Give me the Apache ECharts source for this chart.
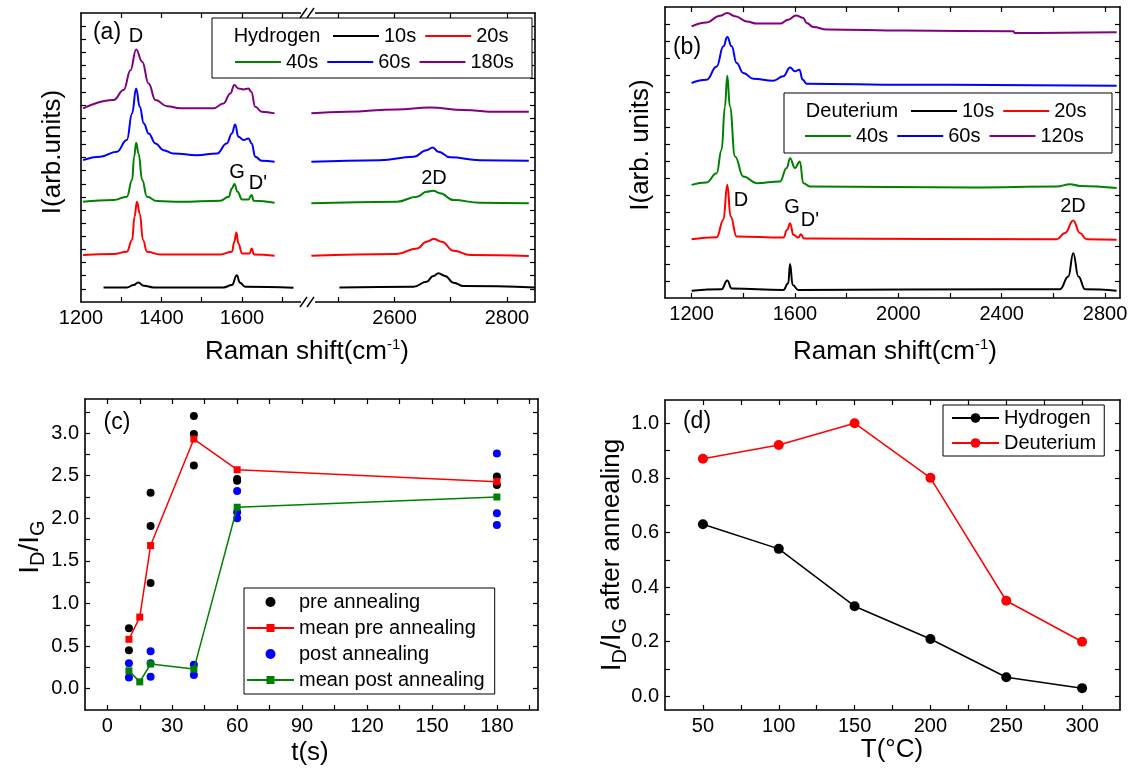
<!DOCTYPE html>
<html>
<head>
<meta charset="utf-8">
<script src="https://cdn.jsdelivr.net/npm/echarts@6/dist/echarts.min.js"></script>
<style>
html, body { margin: 0; padding: 0; background: #fff; }
#main { width: 1130px; height: 771px; }
</style>
</head>
<body>
<div id="main"></div>
<script>
// ---- (a) hydrogen spectra, [Raman shift, offset intensity]; Lo = 1200-1760, Hi = 2450-2850
var h10Lo = [[1256,1.11],[1314,1.11],[1331,1.29],[1342,1.49],[1356,1.24],[1380,1.11],[1554,1.11],[1575,1.29],[1587,2.03],[1595,1.47],[1608,1.16],[1728,1.09]];
var h10Hi = [[2502,1.11],[2634,1.16],[2657,1.54],[2669,1.98],[2678,2.18],[2690,1.98],[2705,1.47],[2723,1.21],[2850,1.11]];
var h20Lo = [[1205,3.57],[1281,3.65],[1314,3.83],[1327,4.72],[1333,6.49],[1339,7.63],[1346,6.74],[1354,4.72],[1364,3.83],[1397,3.62],[1546,3.62],[1575,3.83],[1581,4.59],[1586,5.30],[1591,4.46],[1600,3.70],[1619,3.70],[1624,4.08],[1630,3.62],[1681,3.52]];
var h20Hi = [[2452,3.52],[2604,3.65],[2640,4.08],[2657,4.59],[2670,4.79],[2684,4.59],[2705,3.90],[2735,3.57],[2839,3.50]];
var h40Lo = [[1205,7.63],[1281,7.76],[1314,8.01],[1327,9.28],[1332,11.06],[1337,12.12],[1343,11.31],[1352,9.28],[1364,8.01],[1389,7.68],[1447,7.63],[1546,7.71],[1567,8.01],[1575,8.65],[1581,8.98],[1589,8.39],[1600,7.81],[1616,7.81],[1624,8.14],[1629,7.71],[1681,7.56]];
var h40Hi = [[2452,7.51],[2604,7.63],[2640,8.01],[2657,8.39],[2669,8.47],[2681,8.27],[2705,7.76],[2752,7.56],[2839,7.51]];
var h60Lo = [[1205,10.80],[1248,11.06],[1289,11.44],[1314,12.33],[1327,14.36],[1337,16.26],[1346,14.86],[1356,13.59],[1368,12.83],[1385,12.07],[1405,11.56],[1430,11.31],[1488,11.18],[1538,11.31],[1562,12.07],[1575,12.83],[1583,13.52],[1591,12.58],[1604,12.33],[1616,12.45],[1624,12.07],[1633,11.06],[1649,10.75],[1681,10.68]];
var h60Hi = [[2452,10.68],[2574,10.80],[2634,11.06],[2657,11.56],[2668,11.77],[2678,11.44],[2699,11.01],[2752,10.80],[2839,10.75]];
var h180Lo = [[1205,14.74],[1281,15.37],[1306,16.13],[1323,17.65],[1337,19.23],[1352,18.29],[1368,16.64],[1385,15.37],[1414,14.91],[1447,14.74],[1529,14.74],[1554,15.12],[1571,15.88],[1581,16.51],[1591,16.26],[1604,16.18],[1616,16.26],[1623,16.00],[1633,14.86],[1649,14.48],[1681,14.36]];
var h180Hi = [[2452,14.36],[2515,14.48],[2604,14.66],[2663,14.81],[2723,14.61],[2782,14.48],[2839,14.48]];

// ---- (b) deuterium spectra
var d10 = [[1200,0.43],[1316,0.51],[1338,1.02],[1355,0.55],[1555,0.47],[1574,0.86],[1581,1.99],[1591,0.76],[1613,0.47],[2445,0.51],[2626,0.51],[2658,1.25],[2677,2.62],[2697,1.25],[2723,0.51],[2845,0.43]];
var d20 = [[1200,3.43],[1297,3.55],[1323,4.57],[1338,6.61],[1351,4.76],[1374,3.59],[1555,3.53],[1570,3.98],[1581,4.37],[1594,3.69],[1613,3.53],[1623,3.73],[1635,3.47],[2613,3.43],[2645,3.79],[2677,4.53],[2703,3.79],[2729,3.43],[2845,3.40]];
var d40 = [[1200,6.61],[1258,6.75],[1297,7.29],[1316,8.66],[1329,11.19],[1338,12.99],[1348,11.19],[1368,8.27],[1400,7.10],[1452,6.71],[1542,6.81],[1568,7.59],[1581,8.17],[1600,7.59],[1619,7.98],[1632,6.71],[1658,6.51],[2290,6.46],[2613,6.51],[2665,6.65],[2703,6.55],[2845,6.42]];
var d60 = [[1200,12.56],[1258,12.75],[1297,13.53],[1323,14.70],[1338,15.25],[1355,14.70],[1374,13.73],[1400,13.14],[1439,12.81],[1516,12.69],[1555,12.95],[1581,13.47],[1600,13.24],[1617,13.34],[1630,12.75],[1645,12.52],[2032,12.46],[2845,12.40]];
var d120 = [[1200,15.87],[1258,16.10],[1310,16.49],[1338,16.65],[1368,16.46],[1413,16.16],[1452,16.03],[1542,16.03],[1574,16.26],[1604,16.51],[1632,16.36],[1645,16.07],[1671,15.83],[1723,15.68],[2032,15.62],[2445,15.58],[2452,15.48],[2845,15.52]];

// ---- (c) ID/IG vs exposure time
var preAnnealing = [[10,0.71],[10,0.45],[20,2.30],[20,1.91],[20,1.24],[40,3.20],[40,2.99],[40,2.62],[60,2.46],[60,2.44],[180,2.49],[180,2.39]];
var meanPre = [[10,0.58],[15,0.84],[20,1.68],[40,2.93],[60,2.57],[180,2.43]];
var postAnnealing = [[10,0.30],[10,0.13],[20,0.44],[20,0.30],[20,0.14],[40,0.28],[40,0.16],[60,2.32],[60,2.07],[60,2.00],[180,2.76],[180,2.06],[180,1.92]];
var meanPost = [[10,0.21],[15,0.08],[20,0.29],[40,0.23],[60,2.13],[180,2.25]];

// ---- (d) ID/IG after annealing vs temperature
var temps = [50, 100, 150, 200, 250, 300];
var hydrogenAfter = [0.63, 0.54, 0.33, 0.21, 0.07, 0.03];
var deuteriumAfter = [0.87, 0.92, 1.00, 0.80, 0.35, 0.20];

var FONT = 'Liberation Sans, Arial, sans-serif';
var BLACK = '#000', RED = '#ff0000', GREEN = '#008000', BLUE = '#0000ff', PURPLE = '#800080';

function axis(grid, min, max, pos, labels, ticks, fmt) {
    var showLabel = pos === 'bottom' || pos === 'left';
    return {
        type: 'value', gridIndex: grid, min: min, max: max, position: pos,
        axisLine: { show: true, onZero: false, lineStyle: { color: BLACK, width: 1.6 } },
        axisTick: { show: true, inside: true, length: 5, customValues: ticks, lineStyle: { color: BLACK, width: 1.2 } },
        axisLabel: {
            show: showLabel && labels.length > 0, customValues: labels, color: BLACK,
            fontSize: 20, fontFamily: FONT, margin: 6,
            formatter: fmt || function(v) { return String(v); }
        },
        splitLine: { show: false }
    };
}
var f1 = function(v) { return v.toFixed(1); };

function spec(name, data, xi, yi, color) {
    return {
        type: 'line', name: name, data: data, xAxisIndex: xi, yAxisIndex: yi,
        symbol: 'none', smooth: 0.45, smoothMonotone: 'x', silent: true,
        lineStyle: { color: color, width: 2 }, itemStyle: { color: color }
    };
}

function txt(x, y, text, size, extra) {
    var el = {
        type: 'text', x: x, y: y, z: 20,
        style: { text: text, fill: BLACK, font: size + 'px ' + FONT, textAlign: 'center', textVerticalAlign: 'middle' }
    };
    if (extra) Object.assign(el.style, extra.style || {}), el.rotation = extra.rotation || 0;
    return el;
}

var subRich = {
    m: { fontSize: 28, fontFamily: FONT, lineHeight: 34, fill: BLACK },
    s: { fontSize: 20, fontFamily: FONT, lineHeight: 20, padding: [16, 0, 0, 0], fill: BLACK },
    n: { fontSize: 26, fontFamily: FONT, lineHeight: 34, fill: BLACK }
};
var supRich = {
    m: { fontSize: 26, fontFamily: FONT, lineHeight: 30, fill: BLACK },
    p: { fontSize: 15, fontFamily: FONT, lineHeight: 15, padding: [0, 0, 15, 0], fill: BLACK }
};

// plain line swatches, no markers
var lineLegend = { padding: 0, itemWidth: 46, itemHeight: 2, itemGap: 9, icon: 'rect',
    textStyle: { fontSize: 20, fontFamily: FONT, color: BLACK, lineHeight: 20 },
    formatter: function(n) { return n.slice(1); } };

function breakMark(y) {
    return [
        { type: 'rect', z: 30, shape: { x: 301, y: y - 3, width: 14, height: 6 }, style: { fill: '#fff' } },
        { type: 'line', z: 31, shape: { x1: 300, y1: y + 5, x2: 307, y2: y - 5 }, style: { stroke: BLACK, lineWidth: 1.4 } },
        { type: 'line', z: 31, shape: { x1: 307, y1: y + 5, x2: 314, y2: y - 5 }, style: { stroke: BLACK, lineWidth: 1.4 } }
    ];
}

var chart = echarts.init(document.getElementById('main'), null, { renderer: 'canvas' });

var grids = [
    { left: 81, top: 13, width: 227, height: 289 },
    { left: 308, top: 13, width: 227, height: 289 },
    { left: 665, top: 7, width: 455, height: 291 },
    { left: 85, top: 399, width: 453, height: 311 },
    { left: 665, top: 400, width: 455, height: 310 }
].map(function(g) { g.containLabel = false; g.outerBoundsMode = 'none'; return g; });

var aTicksY = [], bTicksY = [];
for (var i = 1; i <= 21; i++) aTicksY.push(i);
for (var j = 1; j <= 16; j++) bTicksY.push(j);

var option = {
    animation: false,
    backgroundColor: '#fff',
    textStyle: { fontFamily: FONT },
    grid: grids,
    xAxis: [
        axis(0, 1200, 1764, 'bottom', [1200, 1400, 1600], [1300, 1400, 1500, 1600, 1700]),
        axis(0, 1200, 1764, 'top', [], [1300, 1400, 1500, 1600, 1700]),
        axis(1, 2446, 2850, 'bottom', [2600, 2800], [2500, 2600, 2700, 2800]),
        axis(1, 2446, 2850, 'top', [], [2500, 2600, 2700, 2800]),
        axis(2, 1097, 2858, 'bottom', [1200, 1600, 2000, 2400, 2800], [1200, 1400, 1600, 1800, 2000, 2200, 2400, 2600, 2800]),
        axis(2, 1097, 2858, 'top', [], [1200, 1400, 1600, 1800, 2000, 2200, 2400, 2600, 2800]),
        axis(3, -10.3, 199, 'bottom', [0, 30, 60, 90, 120, 150, 180], [0, 15, 30, 45, 60, 75, 90, 105, 120, 135, 150, 165, 180, 195]),
        axis(3, -10.3, 199, 'top', [], [0, 15, 30, 45, 60, 75, 90, 105, 120, 135, 150, 165, 180, 195]),
        axis(4, 25, 325, 'bottom', [50, 100, 150, 200, 250, 300], [50, 75, 100, 125, 150, 175, 200, 225, 250, 275, 300]),
        axis(4, 25, 325, 'top', [], [50, 75, 100, 125, 150, 175, 200, 225, 250, 275, 300])
    ],
    yAxis: [
        axis(0, 0, 22, 'left', [], aTicksY),
        axis(1, 0, 22, 'right', [], aTicksY),
        axis(2, 0, 17, 'left', [], bTicksY),
        axis(2, 0, 17, 'right', [], bTicksY),
        axis(3, -0.25, 3.4, 'left', [0, 0.5, 1, 1.5, 2, 2.5, 3], [0, 0.25, 0.5, 0.75, 1, 1.25, 1.5, 1.75, 2, 2.25, 2.5, 2.75, 3, 3.25], f1),
        axis(3, -0.25, 3.4, 'right', [], [0, 0.25, 0.5, 0.75, 1, 1.25, 1.5, 1.75, 2, 2.25, 2.5, 2.75, 3, 3.25]),
        axis(4, -0.05, 1.085, 'left', [0, 0.2, 0.4, 0.6, 0.8, 1], [0, 0.1, 0.2, 0.3, 0.4, 0.5, 0.6, 0.7, 0.8, 0.9, 1], f1),
        axis(4, -0.05, 1.085, 'right', [], [0, 0.1, 0.2, 0.3, 0.4, 0.5, 0.6, 0.7, 0.8, 0.9, 1])
    ],
    legend: [
        Object.assign({ left: 333, top: 26, data: ['H10s', 'H20s'] }, lineLegend),
        Object.assign({ left: 235, top: 52, data: ['H40s', 'H60s', 'H180s'] }, lineLegend),
        Object.assign({ left: 911, top: 101, data: ['D10s', 'D20s'] }, lineLegend),
        Object.assign({ left: 805, top: 126, data: ['D40s', 'D60s', 'D120s'] }, lineLegend),
        {
            left: 244, top: 588, orient: 'vertical', padding: [4, 10, 4, 2], itemGap: 6,
            itemWidth: 47, itemHeight: 10, borderColor: BLACK, borderWidth: 1,
            textStyle: { fontSize: 20, fontFamily: FONT, color: BLACK, lineHeight: 20 },
            data: ['pre annealing', 'mean pre annealing', 'post annealing', 'mean post annealing']
        },
        {
            left: 943, top: 405, orient: 'vertical', padding: [3, 8, 3, 8], itemGap: 5,
            itemWidth: 47, itemHeight: 12, borderColor: BLACK, borderWidth: 1,
            textStyle: { fontSize: 20, fontFamily: FONT, color: BLACK, lineHeight: 20 },
            data: ['Hydrogen', 'Deuterium']
        }
    ],
    series: [
        spec('H10s', h10Lo, 0, 0, BLACK), spec('H10s', h10Hi, 2, 1, BLACK),
        spec('H20s', h20Lo, 0, 0, RED), spec('H20s', h20Hi, 2, 1, RED),
        spec('H40s', h40Lo, 0, 0, GREEN), spec('H40s', h40Hi, 2, 1, GREEN),
        spec('H60s', h60Lo, 0, 0, BLUE), spec('H60s', h60Hi, 2, 1, BLUE),
        spec('H180s', h180Lo, 0, 0, PURPLE), spec('H180s', h180Hi, 2, 1, PURPLE),
        spec('D10s', d10, 4, 2, BLACK),
        spec('D20s', d20, 4, 2, RED),
        spec('D40s', d40, 4, 2, GREEN),
        spec('D60s', d60, 4, 2, BLUE),
        spec('D120s', d120, 4, 2, PURPLE),
        {
            type: 'line', name: 'mean pre annealing', data: meanPre, xAxisIndex: 6, yAxisIndex: 4,
            symbol: 'rect', symbolSize: 7, lineStyle: { color: RED, width: 1.5 }, itemStyle: { color: RED }
        },
        {
            type: 'line', name: 'mean post annealing', data: meanPost, xAxisIndex: 6, yAxisIndex: 4,
            symbol: 'rect', symbolSize: 7, lineStyle: { color: GREEN, width: 1.5 }, itemStyle: { color: GREEN }
        },
        {
            type: 'scatter', name: 'pre annealing', data: preAnnealing, xAxisIndex: 6, yAxisIndex: 4,
            symbol: 'circle', symbolSize: 8, itemStyle: { color: BLACK, opacity: 1 }
        },
        {
            type: 'scatter', name: 'post annealing', data: postAnnealing, xAxisIndex: 6, yAxisIndex: 4,
            symbol: 'circle', symbolSize: 8, itemStyle: { color: BLUE, opacity: 1 }
        },
        {
            type: 'line', name: 'Hydrogen', xAxisIndex: 8, yAxisIndex: 6,
            data: temps.map(function(t, k) { return [t, hydrogenAfter[k]]; }),
            symbol: 'circle', symbolSize: 10, lineStyle: { color: BLACK, width: 1.5 }, itemStyle: { color: BLACK }
        },
        {
            type: 'line', name: 'Deuterium', xAxisIndex: 8, yAxisIndex: 6,
            data: temps.map(function(t, k) { return [t, deuteriumAfter[k]]; }),
            symbol: 'circle', symbolSize: 10, lineStyle: { color: RED, width: 1.5 }, itemStyle: { color: RED }
        }
    ],
    graphic: [].concat(
        breakMark(13), breakMark(302),
        [
            // legend boxes for (a) and (b)
            { type: 'rect', z: 3, shape: { x: 212, y: 18, width: 320, height: 60 }, style: { fill: '#fff', stroke: BLACK, lineWidth: 1 } },
            { type: 'rect', z: 3, shape: { x: 784, y: 93, width: 328, height: 60 }, style: { fill: '#fff', stroke: BLACK, lineWidth: 1 } },
            txt(277, 36, 'Hydrogen', 20),
            txt(852, 111, 'Deuterium', 20),
            // panel tags and peak names
            txt(107, 33, '(a)', 23), txt(687, 48, '(b)', 23), txt(117, 423, '(c)', 23), txt(697, 422, '(d)', 23),
            txt(136, 36, 'D', 20), txt(237, 172, 'G', 20), txt(258, 183, "D'", 20), txt(434, 178, '2D', 20),
            txt(741, 200, 'D', 20), txt(792, 207, 'G', 20), txt(810, 220, "D'", 20), txt(1073, 206, '2D', 20),
            // axis titles
            txt(307, 352, '{m|Raman shift(cm}{p|-1}{m|)}', 26, { style: { rich: supRich } }),
            txt(895, 352, '{m|Raman shift(cm}{p|-1}{m|)}', 26, { style: { rich: supRich } }),
            txt(310, 753, 't(s)', 26),
            txt(892, 750, 'T(°C)', 26),
            txt(53, 152, 'I(arb.units)', 26, { rotation: Math.PI / 2 }),
            txt(641, 145, 'I(arb. units)', 26, { rotation: Math.PI / 2 }),
            txt(30, 547, '{m|I}{s|D}{m|/I}{s|G}', 28, { rotation: Math.PI / 2, style: { rich: subRich } }),
            txt(612, 555, '{m|I}{s|D}{m|/I}{s|G}{n| after annealing}', 28, { rotation: Math.PI / 2, style: { rich: subRich } })
        ]
    )
};

chart.setOption(option);
</script>
</body>
</html>
